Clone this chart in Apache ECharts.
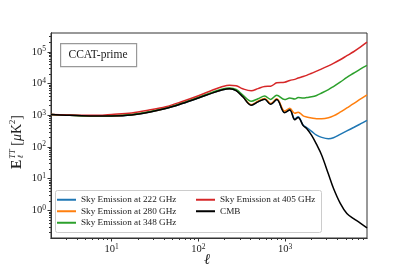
<!DOCTYPE html>
<html>
<head>
<meta charset="utf-8">
<script src="https://cdn.jsdelivr.net/npm/echarts@6/dist/echarts.min.js"></script>
<style>
html,body{margin:0;padding:0;background:#fff;}
#chart{width:407px;height:271px;}
</style>
</head>
<body>
<div id="chart"></div>
<script>
// ---- data ----
const ells = [2,3,4.5,7,10,17,27,42,65,100,146,190,228,272,325,406,486,580,680,800,985,1130,1290,1410,1614,1767,2018,2300,2636,3150,3600,4300,5140,6140,7340,8770];
const cmb = [1050,1000,960,945,950,1020,1245,1625,2340,3500,5070,6300,6800,6000,3800,2070,2640,3200,2200,3100,1200,1450,720,850,470,380,230,120,55,14,5,1.7,0.8,0.55,0.4,0.28];
const sky222 = [1050,1000,960,945,950,1020,1245,1625,2340,3500,5070,6300,6800,6000,3800,2080,2650,3220,2220,3130,1230,1480,760,900,480,410,310,235,200,182,195,250,320,410,530,690];
const sky280 = [1050,1000,960,948,955,1030,1260,1650,2380,3560,5150,6400,6900,6100,3900,2150,2750,3350,2350,3300,1350,1650,1150,1250,950,880,820,780,780,830,950,1250,1700,2300,3200,4400];
const sky348 = [1050,1005,970,960,970,1050,1290,1690,2450,3700,5350,6700,7200,6450,4300,2750,3300,4000,3150,4250,3100,3500,3250,3600,3500,3600,3800,4200,5000,6400,8000,11000,15500,21000,28500,37000];
const sky405 = [1050,1020,1000,1000,1060,1180,1450,1850,2700,4100,6200,8000,8800,8500,6800,5900,6900,8100,8200,10500,11000,12500,13500,14800,16500,18000,21000,24500,29000,36000,43000,56000,75000,100000,140000,200000];
const seriesNames = ['Sky Emission at 222 GHz','Sky Emission at 280 GHz','Sky Emission at 348 GHz','Sky Emission at 405 GHz','CMB'];
const seriesColors = ['#1f77b4','#ff7f0e','#2ca02c','#d62728','#000000'];
const xMajorTicks = [10,100,1000];
const xMinorTicks = [3,4,5,6,7,8,9,20,30,40,50,60,70,80,90,200,300,400,500,600,700,800,900,2000,3000,4000,5000,6000,7000,8000];
const yMajorTicks = [1,10,100,1000,10000,100000];
const yMinorTicks = [0.2,0.3,0.4,0.5,0.6,0.7,0.8,0.9,2,3,4,5,6,7,8,9,20,30,40,50,60,70,80,90,200,300,400,500,600,700,800,900,2000,3000,4000,5000,6000,7000,8000,9000,20000,30000,40000,50000,60000,70000,80000,90000,200000,300000];
const xRange = [2, 8770];
const yRange = [0.135, 390000];
const boxLabel = 'CCAT-prime';

const allValues = [sky222, sky280, sky348, sky405, cmb];
const FONT = '"Liberation Serif","DejaVu Serif",serif';

function powLabel(v){
  const e = Math.round(Math.log10(v));
  return '{b|10}{s|' + e + '}';
}
const labelRich = {
  b:{fontFamily:FONT,fontSize:10.5,color:'#222'},
  s:{fontFamily:FONT,fontSize:7.5,color:'#222',verticalAlign:'top',padding:[0,0,5,0]}
};

const chart = echarts.init(document.getElementById('chart'), null, {renderer:'canvas'});
const grid = {left:51, right:40, top:33, bottom:33, show:true, borderColor:'#333', borderWidth:1, backgroundColor:'transparent'};

function axisBase(extra){
  return Object.assign({
    type:'log', logBase:10, splitLine:{show:false}, minorTick:{show:false}, minorSplitLine:{show:false},
    axisLine:{show:true, lineStyle:{color:'#333', width:1}}
  }, extra);
}

const legendText = {fontFamily:FONT, fontSize:9.2, color:'#222', lineHeight:9.5};

const option = {
  animation:false,
  backgroundColor:'#fff',
  grid: grid,
  xAxis:[
    axisBase({min:xRange[0], max:xRange[1], position:'bottom',
      axisTick:{show:true, inside:false, length:3.5, customValues:xMajorTicks, lineStyle:{color:'#333'}},
      axisLabel:{show:true, margin:5, customValues:xMajorTicks, formatter:powLabel, rich:labelRich}}),
    axisBase({min:xRange[0], max:xRange[1], position:'bottom',
      axisTick:{show:true, inside:false, length:2, customValues:xMinorTicks, lineStyle:{color:'#333'}},
      axisLabel:{show:false}})
  ],
  yAxis:[
    axisBase({min:yRange[0], max:yRange[1], position:'left',
      axisTick:{show:true, inside:false, length:3.5, customValues:yMajorTicks, lineStyle:{color:'#333'}},
      axisLabel:{show:true, margin:5, customValues:yMajorTicks, formatter:powLabel, rich:labelRich}}),
    axisBase({min:yRange[0], max:yRange[1], position:'left',
      axisTick:{show:true, inside:false, length:2, customValues:yMinorTicks, lineStyle:{color:'#333'}},
      axisLabel:{show:false}})
  ],
  legend:[
    {data:seriesNames.slice(0,3), orient:'vertical', left:57, top:193, itemWidth:19, itemHeight:2, itemGap:2, itemTextGap:5, icon:'rect',
     padding:[2,0,2,0], textStyle:legendText},
    {data:seriesNames.slice(3), orient:'vertical', left:196, top:193, itemWidth:19, itemHeight:2, itemGap:2, itemTextGap:5, icon:'rect',
     padding:[2,0,2,0], textStyle:legendText}
  ],
  series: seriesNames.map((n,i)=>({
    name:n, type:'line', xAxisIndex:0, yAxisIndex:0, showSymbol:false, symbol:'none', smooth:0.35,
    lineStyle:{color:seriesColors[i], width:1.5}, itemStyle:{color:seriesColors[i]},
    data: ells.map((l,k)=>[l, allValues[i][k]]), z: 2+i
  })),
  graphic:[
    {type:'rect', left:55, top:190, z:1, shape:{width:266, height:42, r:2}, style:{fill:'rgba(255,255,255,0.8)', stroke:'#ccc', lineWidth:1}},
    {type:'rect', left:60, top:43, shape:{width:76, height:23}, style:{fill:'#fff', stroke:'#999', lineWidth:1.2}},
    {type:'text', x:98, y:54.5, style:{text:boxLabel, fontFamily:FONT, fontSize:11.5, fill:'#222', align:'center', verticalAlign:'middle'}},
    {type:'text', x:207, y:260, style:{text:'ℓ', fontFamily:FONT, fontSize:15, fontStyle:'italic', fill:'#222', align:'center', verticalAlign:'middle'}},
    {type:'group', x:17, y:133, rotation:Math.PI/2, children:[
      {type:'text', x:-36, y:0, style:{text:'{E|E}{t|TT}{n| [}{m|μ}{n|K}{q|2}{n|]}', align:'left', verticalAlign:'middle', fill:'#222',
        rich:{E:{fontFamily:FONT,fontSize:14,fontWeight:'bold',fill:'#222'},
              t:{fontFamily:FONT,fontSize:8.5,fontStyle:'italic',fill:'#222',verticalAlign:'top',padding:[0,0,8,1]},
              n:{fontFamily:FONT,fontSize:14,fill:'#222'},
              m:{fontFamily:FONT,fontSize:14,fontStyle:'italic',fill:'#222'},
              q:{fontFamily:FONT,fontSize:8.5,fill:'#222',verticalAlign:'top',padding:[0,0,8,0]}}}},
      {type:'text', x:-25.5, y:3.5, style:{text:'ℓ', fontFamily:FONT, fontSize:8, fontStyle:'italic', fill:'#222', align:'left', verticalAlign:'middle'}}
    ]}
  ]
};
chart.setOption(option);
</script>
</body>
</html>
